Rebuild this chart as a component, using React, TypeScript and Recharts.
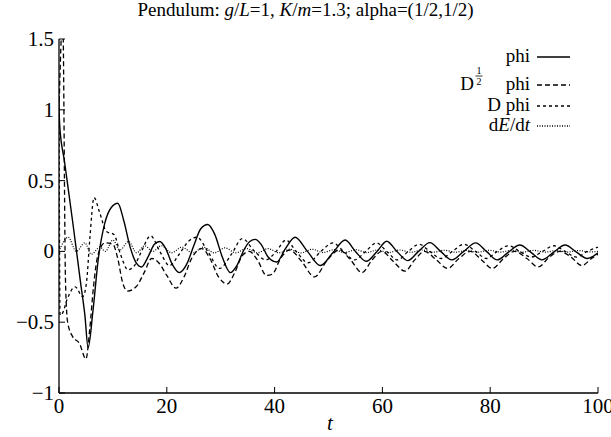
import { LineChart, Line, XAxis, YAxis } from "recharts";

const SERIF = "'Liberation Serif', 'Times New Roman', Times, serif";

const T_TICKS = [0, 20, 40, 60, 80, 100];
const Y_TICKS = [-1, -0.5, 0, 0.5, 1, 1.5];

// phi (solid)
const PHI: [number, number][] = [
	[0, 1.0], [0.15, 0.88], [1, 0.64], [2.5, 0.22], [4, -0.22], [4.8, -0.45], [5.4, -0.68],
	[6.3, -0.42], [7.3, -0.05], [8.5, 0.2], [9.7, 0.31], [10.9, 0.34], [12, 0.22], [13.2, 0.03],
	[14.3, -0.08], [15.3, -0.11], [16.5, -0.04], [17.7, 0.05], [18.7, 0.07], [19.8, 0.02],
	[21, -0.09], [22.3, -0.15], [23.7, -0.09], [25, 0.04], [26.3, 0.16], [27.6, 0.19], [28.9, 0.12],
	[30.3, -0.04], [31.8, -0.15], [33, -0.1], [34.3, 0.01], [35.4, 0.07], [36.4, 0.085], [37.5, 0.05],
	[38.8, -0.04], [40.4, -0.075], [42, 0.02], [43.8, 0.1], [46.1, 0.0], [48.5, -0.1], [50.8, -0.01],
	[53.1, 0.08], [55, 0.0], [57, -0.07], [59, 0.0], [60.8, 0.072], [62.7, 0.0], [64.7, -0.065],
	[66.7, 0.0], [68.8, 0.062], [70.8, 0.0], [72.9, -0.06], [75.1, 0.0], [77.3, 0.06], [79.3, 0.0],
	[81.3, -0.06], [83.4, -0.005], [85.5, 0.045], [87.5, -0.005], [89.6, -0.06], [91.8, -0.005],
	[93.9, 0.045], [96, -0.005], [98, -0.05], [100, -0.01],
];

// D^(1/2) phi (long dashes)
const HALF_D_PHI: [number, number][] = [
	[0, 1.0], [0.7, 1.65], [1.2, -0.2], [1.6, -0.5], [2.5, -0.6], [3.8, -0.65], [5.0, -0.76],
	[5.7, -0.55], [6.4, -0.25], [7.2, -0.03], [8.5, 0.06], [10, 0.05], [10.9, -0.05], [11.8, -0.22],
	[12.7, -0.28], [14.3, -0.25], [15.8, -0.15], [17.2, -0.05], [18.5, -0.08], [20, -0.17],
	[21.7, -0.26], [23.2, -0.18], [24.6, -0.05], [26.5, 0.02], [28, -0.05], [29.6, -0.18],
	[31.2, -0.23], [32.6, -0.15], [34, -0.03], [35.3, 0.0], [36.8, -0.06], [38.5, -0.17],
	[39.6, -0.16], [41.1, -0.05], [42.8, 0.01], [45, -0.07], [47.4, -0.18], [49.8, -0.06],
	[52, 0.01], [54.1, -0.06], [56.2, -0.15], [58.1, -0.06], [59.9, 0.0], [62, -0.07], [64.2, -0.14],
	[66, -0.06], [67.8, 0.0], [70, -0.06], [72.1, -0.12], [74.2, -0.05], [76.3, 0.0], [78.4, -0.06],
	[80.4, -0.12], [82.5, -0.05], [84.5, 0.0], [86.8, -0.05], [88.9, -0.11], [91, -0.04],
	[92.9, 0.0], [95, -0.04], [97, -0.1], [98.8, -0.05], [100, -0.02],
];

// D phi (short dashes)
const D_PHI: [number, number][] = [
	[0, 1.1], [0.2, -0.45], [0.6, -0.44], [1.5, -0.34], [3, -0.25], [4.4, -0.32], [5.1, -0.22],
	[5.7, 0.08], [6.5, 0.38], [7.5, 0.28], [8.8, 0.14], [10.2, 0.12], [11.4, -0.02], [12.8, -0.13],
	[14, -0.1], [15.3, 0.0], [17, 0.11], [18.7, 0.0], [20.5, -0.1], [22.3, -0.02], [24, 0.07],
	[25.6, 0.1], [27.6, 0.0], [29.8, -0.12], [32, -0.02], [34, 0.09], [36.3, 0.0], [38.4, -0.06],
	[40.3, 0.0], [42.1, 0.08], [44, 0.0], [46.2, -0.08], [48.6, 0.0], [50.8, 0.06], [52.8, 0.0],
	[54.8, -0.06], [56.9, 0.0], [58.9, 0.06], [60.8, 0.0], [62.8, -0.06], [64.8, 0.0], [66.8, 0.05],
	[68.8, 0.0], [70.9, -0.05], [73, 0.0], [75.1, 0.05], [77.3, 0.0], [79.3, -0.05], [81.3, 0.0],
	[83.4, 0.04], [85.5, 0.0], [87.6, -0.04], [89.7, 0.0], [91.8, 0.04], [93.9, 0.0], [96, -0.04],
	[98, 0.0], [100, 0.03],
];

// dE/dt (dotted)
const DE_DT: [number, number][] = [
	[0, 0], [1.7, 0.1], [3.2, 0.0], [4.8, 0.06], [6, -0.02], [7.6, 0.03], [8.6, 0.0], [10, 0.08],
	[11.3, 0.01], [12.9, 0.07], [14.4, -0.01], [15.9, 0.04], [17.4, 0.0], [19, 0.04], [20.9, -0.01],
	[22.8, 0.03], [24.8, -0.01], [26.8, 0.03], [28.8, -0.01], [30.8, 0.025], [32.8, -0.01],
	[34.8, 0.02], [36.8, -0.01], [38.8, 0.02], [40.8, -0.01], [42.8, 0.015], [44.9, -0.01],
	[47, 0.015], [49, -0.008], [51, 0.012], [53, -0.008], [55.1, 0.012], [57.1, -0.008], [59.1, 0.01],
	[61.1, -0.008], [63.2, 0.01], [65.3, -0.006], [67.4, 0.01], [69.4, -0.006], [71.5, 0.008],
	[73.6, -0.006], [75.7, 0.008], [77.7, -0.006], [79.8, 0.008], [81.9, -0.005], [84, 0.007],
	[86, -0.005], [88.1, 0.007], [90.2, -0.005], [92.3, 0.006], [94.3, -0.005], [96.4, 0.006],
	[98.5, -0.004], [100, 0.0],
];

const rows = (pts: [number, number][]) => pts.map(([t, v]) => ({ t, v }));

const fmt = (v: number) => (v < 0 ? "\u2212" + Math.abs(v) : String(v));

const TICK_LEN = 6;
const AXIS = { stroke: "#000", strokeWidth: 1.3 };

function LeftTick({ x, y, payload }: any) {
	return (
		<g>
			<line x1={x + 5} x2={x + 5 + TICK_LEN} y1={y} y2={y} stroke="#000" />
			<text x={x} y={y} dy={7} textAnchor="end" fontSize={21} fontFamily={SERIF} fill="#000">
				{fmt(payload.value)}
			</text>
		</g>
	);
}

function RightTick({ x, y }: any) {
	return <line x1={x} x2={x - TICK_LEN} y1={y} y2={y} stroke="#000" />;
}

function BottomTick({ x, y, payload }: any) {
	return (
		<g>
			<line x1={x} x2={x} y1={y - 4} y2={y - 4 - TICK_LEN} stroke="#000" />
			<text x={x} y={y} dy={16} textAnchor="middle" fontSize={21} fontFamily={SERIF} fill="#000">
				{payload.value}
			</text>
		</g>
	);
}

function TopTick({ x, y }: any) {
	return <line x1={x} x2={x} y1={y} y2={y + TICK_LEN} stroke="#000" />;
}

const LEGEND_ROWS = [
	{ key: "phi", y: 57, dash: undefined },
	{ key: "half", y: 85, dash: "5 3" },
	{ key: "d", y: 106, dash: "3 3" },
	{ key: "e", y: 126, dash: "1 1.5" },
];

function LegendLabel({ k, y }: { k: string; y: number }) {
	const base = y + 5;
	const common = { fontSize: 19, fontFamily: SERIF, fill: "#000" };
	if (k === "phi")
		return <text x={530} y={base} textAnchor="end" {...common}>phi</text>;
	if (k === "half")
		return (
			<g>
				<text x={530} y={base} textAnchor="end" {...common}>phi</text>
				<text x={474} y={base} textAnchor="end" {...common}>D</text>
				<text x={479} y={y - 11} textAnchor="middle" fontSize={10} fontFamily={SERIF}>1</text>
				<line x1={475.5} x2={482.5} y1={y - 9} y2={y - 9} stroke="#000" strokeWidth={0.8} />
				<text x={479} y={y} textAnchor="middle" fontSize={10} fontFamily={SERIF}>2</text>
			</g>
		);
	if (k === "d")
		return <text x={530} y={base} textAnchor="end" {...common}>D phi</text>;
	return (
		<text x={530} y={base} textAnchor="end" {...common}>
			d<tspan fontStyle="italic">E</tspan>/d<tspan fontStyle="italic">t</tspan>
		</text>
	);
}

export default function App() {
	const lineProps = {
		type: "monotone" as const,
		dataKey: "v",
		stroke: "#000",
		dot: false,
		activeDot: false,
		isAnimationActive: false,
	};
	return (
		<div style={{ position: "absolute", left: 0, top: 0, width: 611, height: 437, background: "#fff" }}>
			<div
				style={{
					position: "absolute", left: 0, top: 0, width: 611, textAlign: "center",
					fontFamily: SERIF, fontSize: 19, lineHeight: "20px", color: "#000",
				}}
			>
				Pendulum: <i>g</i>/<i>L</i>=1, <i>K</i>/<i>m</i>=1.3; alpha=(1/2,1/2)
			</div>
			<LineChart width={611} height={437} margin={{ top: 39, right: 13, bottom: 0, left: 0 }}>
				<XAxis
					dataKey="t"
					type="number"
					domain={[0, 100]}
					ticks={T_TICKS}
					allowDataOverflow
					height={44}
					tickSize={0}
					tickMargin={4}
					tick={<BottomTick />}
					axisLine={AXIS}
					tickLine={false}
					interval={0}
				/>
				<XAxis
					xAxisId="top"
					orientation="top"
					dataKey="t"
					type="number"
					domain={[0, 100]}
					ticks={T_TICKS}
					height={0}
					tickSize={0}
					tickMargin={0}
					tick={<TopTick />}
					axisLine={AXIS}
					tickLine={false}
					interval={0}
				/>
				<YAxis
					type="number"
					domain={[-1, 1.5]}
					ticks={Y_TICKS}
					allowDataOverflow
					width={59}
					tickSize={0}
					tickMargin={5}
					tick={<LeftTick />}
					axisLine={AXIS}
					tickLine={false}
					interval={0}
				/>
				<YAxis
					yAxisId="right"
					orientation="right"
					type="number"
					domain={[-1, 1.5]}
					ticks={Y_TICKS}
					width={0}
					tickSize={0}
					tickMargin={0}
					tick={<RightTick />}
					axisLine={AXIS}
					tickLine={false}
					interval={0}
				/>
				<Line {...lineProps} data={rows(PHI)} name="phi" strokeWidth={1.4} />
				<Line {...lineProps} data={rows(HALF_D_PHI)} name="D1/2 phi" strokeWidth={1.3} strokeDasharray="5 3" />
				<Line {...lineProps} data={rows(D_PHI)} name="D phi" strokeWidth={1.3} strokeDasharray="3 3" />
				<Line {...lineProps} data={rows(DE_DT)} name="dE/dt" strokeWidth={1.2} strokeDasharray="1 1.5" />
			</LineChart>
			<svg width={611} height={437} style={{ position: "absolute", left: 0, top: 0, pointerEvents: "none" }}>
				{LEGEND_ROWS.map((r) => (
					<g key={r.key}>
						<LegendLabel k={r.key} y={r.y} />
						<line x1={537} x2={570} y1={r.y} y2={r.y} stroke="#000" strokeWidth={1.3} strokeDasharray={r.dash} />
					</g>
				))}
			</svg>
			<div
				style={{
					position: "absolute", left: 320, top: 412, width: 20, textAlign: "center",
					fontFamily: SERIF, fontSize: 21, lineHeight: "22px", fontStyle: "italic", color: "#000",
				}}
			>
				t
			</div>
		</div>
	);
}
